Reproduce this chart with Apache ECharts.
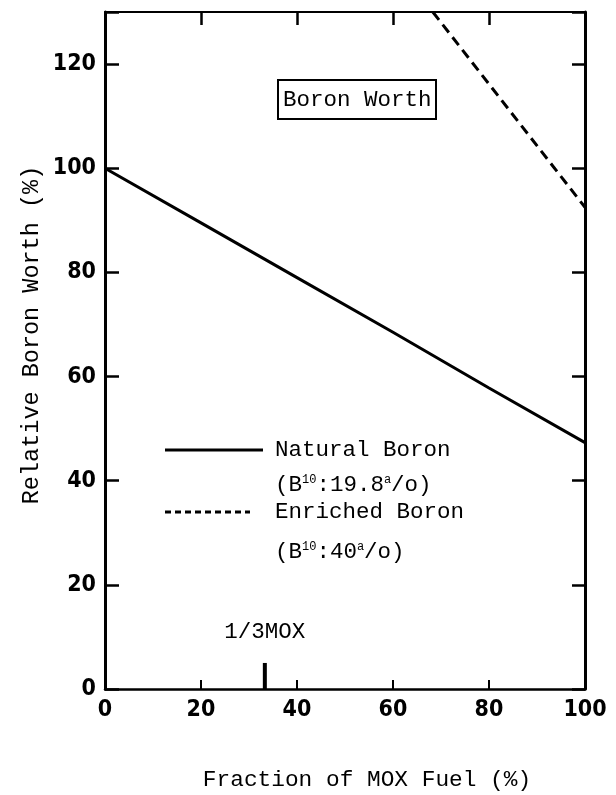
<!DOCTYPE html>
<html>
<head>
<meta charset="utf-8">
<script src="https://cdn.jsdelivr.net/npm/echarts@6/dist/echarts.min.js"></script>
<style>html,body{margin:0;padding:0;background:#fff}#c{width:616px;height:795px}</style>
</head>
<body>
<div id="c"></div>
<script>
// ---- data ----
var naturalX = [0, 20, 40, 60, 80, 100];
var naturalY = [100, 89.5, 79, 68.5, 57.8, 47.3];
var enrichedX = [68.3, 100];
var enrichedY = [130, 92.5];
var mox13X = 33.3;
var mox13Y = [0, 5];
var xTicks = [0, 20, 40, 60, 80, 100];
var yTicks = [0, 20, 40, 60, 80, 100, 120];
var xTitle = 'Fraction of MOX Fuel (%)';
var yTitle = 'Relative Boron Worth (%)';
var boxTitle = 'Boron Worth';
var legendNames = ['Natural Boron', 'Enriched Boron'];

var numFont = "'DejaVu Sans Condensed', 'Liberation Sans Narrow', sans-serif";
var monoFont = "'Liberation Mono', 'DejaVu Sans Mono', monospace";

function pairs(xs, ys) { return xs.map(function (x, i) { return [x, ys[i]]; }); }

var chart = echarts.init(document.getElementById('c'), null, {renderer: 'canvas'});
function axisLine(w) { return {onZero: false, lineStyle: {color: '#000', width: w}}; }
function axisTick(len, w) { return {inside: true, length: len, lineStyle: {color: '#000', width: w}}; }
var numLabel = {color: '#000', fontFamily: numFont, fontSize: 23, fontWeight: 'bold'};

var option = {
  backgroundColor: '#fff',
  animation: false,
  title: {
    text: boxTitle, left: 278, top: 80,
    borderWidth: 2, borderColor: '#000', padding: [9, 5, 7, 5],
    textStyle: {fontFamily: monoFont, fontSize: 22.5, fontWeight: 'normal', color: '#000'}
  },
  grid: {left: 105, right: 31, top: 12, bottom: 106},
  xAxis: [
    {type: 'value', min: 0, max: 100, interval: 20, position: 'bottom', splitLine: {show: false},
     axisLine: axisLine(2.5), axisTick: axisTick(9, 2),
     axisLabel: Object.assign({margin: 10,
       formatter: function (v) { return xTicks.indexOf(v) >= 0 ? String(v) : ''; }}, numLabel)},
    {type: 'value', min: 0, max: 100, interval: 20, position: 'top', splitLine: {show: false},
     axisLine: axisLine(2), axisTick: axisTick(13, 2.5), axisLabel: {show: false}}
  ],
  yAxis: [
    {type: 'value', min: 0, max: 130, interval: 20, position: 'left', splitLine: {show: false},
     axisLine: axisLine(3), axisTick: axisTick(14, 2.5),
     axisLabel: Object.assign({margin: 9,
       formatter: function (v) { return yTicks.indexOf(v) >= 0 ? String(v) : ''; }}, numLabel)},
    {type: 'value', min: 0, max: 130, interval: 20, position: 'right', splitLine: {show: false},
     axisLine: axisLine(3), axisTick: axisTick(13, 2.5), axisLabel: {show: false}}
  ],
  series: [
    {
      name: legendNames[0], type: 'line', data: pairs(naturalX, naturalY),
      symbol: 'none', lineStyle: {color: '#000', width: 3}, clip: true
    },
    {
      name: legendNames[1], type: 'line', data: pairs(enrichedX, enrichedY),
      symbol: 'none', lineStyle: {color: '#000', width: 3, type: [10, 6]}, clip: true
    },
    {
      name: '1/3MOX', type: 'line', symbol: 'circle', symbolSize: 0, showSymbol: true,
      itemStyle: {color: '#000'},
      data: [
        {value: [mox13X, mox13Y[0]]},
        {value: [mox13X, mox13Y[1]],
         label: {show: true, position: 'top', distance: 19, formatter: '1/3MOX',
                 color: '#000', fontFamily: monoFont, fontSize: 22.5}}
      ],
      lineStyle: {color: '#000', width: 4}
    }
  ],
  graphic: [
    {type: 'text', x: 367, y: 780,
     style: {text: xTitle, fontFamily: monoFont, fontSize: 22.8, fill: '#000', align: 'center', verticalAlign: 'middle'}},
    {type: 'text', x: 32, y: 335, rotation: Math.PI / 2,
     style: {text: yTitle, fontFamily: monoFont, fontSize: 23.5, fill: '#000', align: 'center', verticalAlign: 'middle'}},
    // legend
    {type: 'line', shape: {x1: 165, y1: 450, x2: 263, y2: 450}, style: {stroke: '#000', lineWidth: 3}},
    {type: 'text', x: 275, y: 450,
     style: {text: legendNames[0], fontFamily: monoFont, fontSize: 22.5, fill: '#000', verticalAlign: 'middle'}},
    {type: 'text', x: 275, y: 485,
     style: {text: '(B{s|10}:19.8{s|a}/o)', fontFamily: monoFont, fontSize: 22.5, fill: '#000', verticalAlign: 'middle',
             rich: {s: {fontFamily: monoFont, fontSize: 12, verticalAlign: 'top', padding: [0, 0, 10, 0]}}}},
    {type: 'line', shape: {x1: 165, y1: 512, x2: 250, y2: 512}, style: {stroke: '#000', lineWidth: 3, lineDash: [6, 4]}},
    {type: 'text', x: 275, y: 512,
     style: {text: legendNames[1], fontFamily: monoFont, fontSize: 22.5, fill: '#000', verticalAlign: 'middle'}},
    {type: 'text', x: 275, y: 552,
     style: {text: '(B{s|10}:40{s|a}/o)', fontFamily: monoFont, fontSize: 22.5, fill: '#000', verticalAlign: 'middle',
             rich: {s: {fontFamily: monoFont, fontSize: 12, verticalAlign: 'top', padding: [0, 0, 10, 0]}}}}
  ]
};
chart.setOption(option);
</script>
</body>
</html>
